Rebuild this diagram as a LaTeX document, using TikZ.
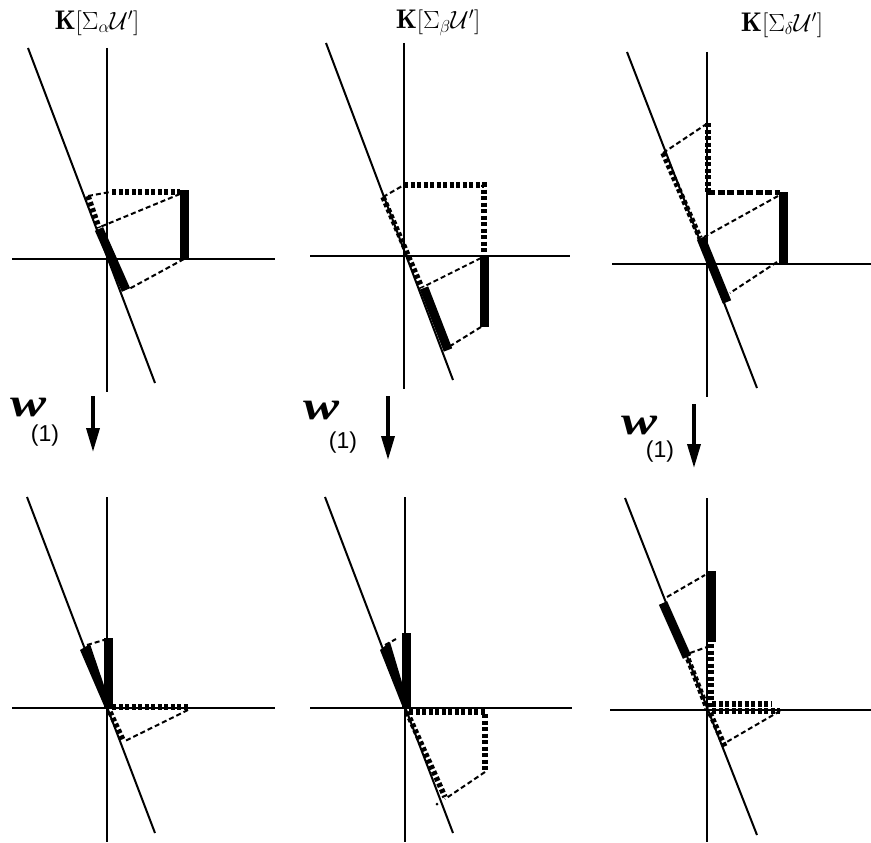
\documentclass[tikz,border=0pt]{standalone}
\usepackage{amsmath}
\usepackage{fontspec}
\usepackage{tikz}
\usetikzlibrary{arrows.meta}
\newfontfamily\wfont{Liberation Serif}[BoldItalicFont={* Bold Italic}]
\newfontfamily\onefont{Liberation Sans}

\begin{document}
\begin{tikzpicture}[x=1pt,y=-1pt,
    axisline/.style={line width=2pt},
    thickbar/.style={line width=9pt},
    thindash/.style={line width=2pt, dash pattern=on 5pt off 3pt},
    heavydot/.style={line width=5.5pt, dash pattern=on 4pt off 2.5pt},
    heavydash/.style={line width=5pt, dash pattern=on 7pt off 2.5pt},
    downarrow/.style={line width=3.5pt, -{Triangle[length=24pt,width=13pt]}},
    title/.style={font=\fontsize{27}{31}\selectfont, inner sep=0pt},
    wlabel/.style={font=\fontsize{40}{44}\selectfont\wfont\bfseries\itshape, inner sep=0pt},
    onelabel/.style={font=\fontsize{23}{26}\selectfont\onefont, inner sep=0pt}]
    \useasboundingbox (0,0) rectangle (871,843);

    \node [title] (ta) at (97,23) {$\mathbf{K}[\Sigma_\alpha\mathcal{U}']$};
    \node [title] (tb) at (438,23) {$\mathbf{K}[\Sigma_\beta\mathcal{U}']$};
    \node [title] (td) at (782,25) {$\mathbf{K}[\Sigma_\delta\mathcal{U}']$};

    \draw [axisline] (107,48) -- (107,392);
    \draw [axisline] (12,259) -- (275,259);
    \draw [axisline] (28,48) -- (155,383);
    \draw [thickbar] (184,190) -- (184,259);
    \draw [thickbar] (99,229) -- (126,290);
    \draw [thindash] (180,194) -- (100,227);
    \draw [thindash] (184,259) -- (129,289);
    \draw [heavydot] (112,192) -- (180,192);
    \draw [thindash] (88,196) -- (110,192);
    \draw [heavydot] (88,196) -- (99,228);

    \draw [axisline] (404,43) -- (404,389);
    \draw [axisline] (310,256) -- (570,256);
    \draw [axisline] (326,43) -- (453,380);
    \draw [heavydot] (404,185) -- (484,185) -- (484,253);
    \draw [thindash] (383,197) -- (404,185);
    \draw [heavydot] (383,197) -- (422,288);
    \draw [thickbar] (484,256) -- (484,327);
    \draw [thickbar] (424,288) -- (448,350);
    \draw [thindash] (481,258) -- (425,286);
    \draw [thindash] (481,327) -- (447,348);

    \draw [axisline] (707,52) -- (707,397);
    \draw [axisline] (612,264) -- (871,264);
    \draw [axisline] (627,52) -- (757,388);
    \draw [heavydot] (708,123) -- (708,192);
    \draw [heavydash] (708,192) -- (780,192);
    \draw [thickbar] (783,192) -- (783,263);
    \draw [thindash] (663,153) -- (708,123);
    \draw [heavydot] (663,153) -- (700,238);
    \draw [thindash] (778,196) -- (704,237);
    \draw [thickbar] (701,238) -- (727,302);
    \draw [thindash] (777,262) -- (730,293);

    \node [wlabel] (wa) at (29,408) {\scalebox{1.35}[1]{w}};
    \node [onelabel] (ia) at (45,436) {(1)};
    \coordinate (aa1) at (93,396);
    \coordinate (aa2) at (93,452);
    \draw [downarrow] (aa1) -- (aa2);

    \node [wlabel] (wb) at (322,411) {\scalebox{1.35}[1]{w}};
    \node [onelabel] (ib) at (343,443) {(1)};
    \coordinate (ab1) at (388,396);
    \coordinate (ab2) at (388,460);
    \draw [downarrow] (ab1) -- (ab2);

    \node [wlabel] (wd) at (640,426) {\scalebox{1.35}[1]{w}};
    \node [onelabel] (id) at (660,452) {(1)};
    \coordinate (ad1) at (694,404);
    \coordinate (ad2) at (694,468);
    \draw [downarrow] (ad1) -- (ad2);

    \draw [axisline] (107,497) -- (107,842);
    \draw [axisline] (12,708) -- (275,708);
    \draw [axisline] (27,497) -- (155,833);
    \draw [thickbar] (108,638) -- (108,708);
    \fill (80,650) -- (90,644) -- (111,706) -- (105,708) -- cycle;
    \draw [thindash] (87,645) -- (104,640);
    \draw [heavydot] (112,707) -- (188,707);
    \draw [thindash] (188,710) -- (125,741);
    \draw [heavydot] (110,712) -- (123,740);

    \draw [axisline] (405,497) -- (405,842);
    \draw [axisline] (310,708) -- (572,708);
    \draw [axisline] (325,497) -- (453,833);
    \draw [thickbar] (406,633) -- (406,708);
    \fill (380,650) -- (390,642) -- (409,706) -- (403,708) -- cycle;
    \draw [thindash] (385,645) -- (396,639);
    \draw [heavydot] (409,712) -- (485,712) -- (485,772);
    \draw [thindash] (485,772) -- (445,799);
    \draw [heavydot] (407,712) -- (445,797);
    \fill (437,804) circle (1.5);

    \draw [axisline] (707,498) -- (707,842);
    \draw [axisline] (610,710) -- (871,710);
    \draw [axisline] (625,498) -- (757,835);
    \draw [thickbar] (711,571) -- (711,642);
    \draw [thickbar] (663,603) -- (687,657);
    \draw [thindash] (667,597) -- (705,575);
    \draw [thindash] (690,653) -- (707,647);
    \draw [heavydot] (711,644) -- (711,708);
    \draw [heavydot] (688,659) -- (707,708);
    \draw [heavydot] (712,704) -- (772,704);
    \draw [heavydot] (712,711) -- (780,711);
    \draw [thindash] (780,711) -- (725,743);
    \draw [heavydot] (710,713) -- (725,747);
\end{tikzpicture}
\end{document}
